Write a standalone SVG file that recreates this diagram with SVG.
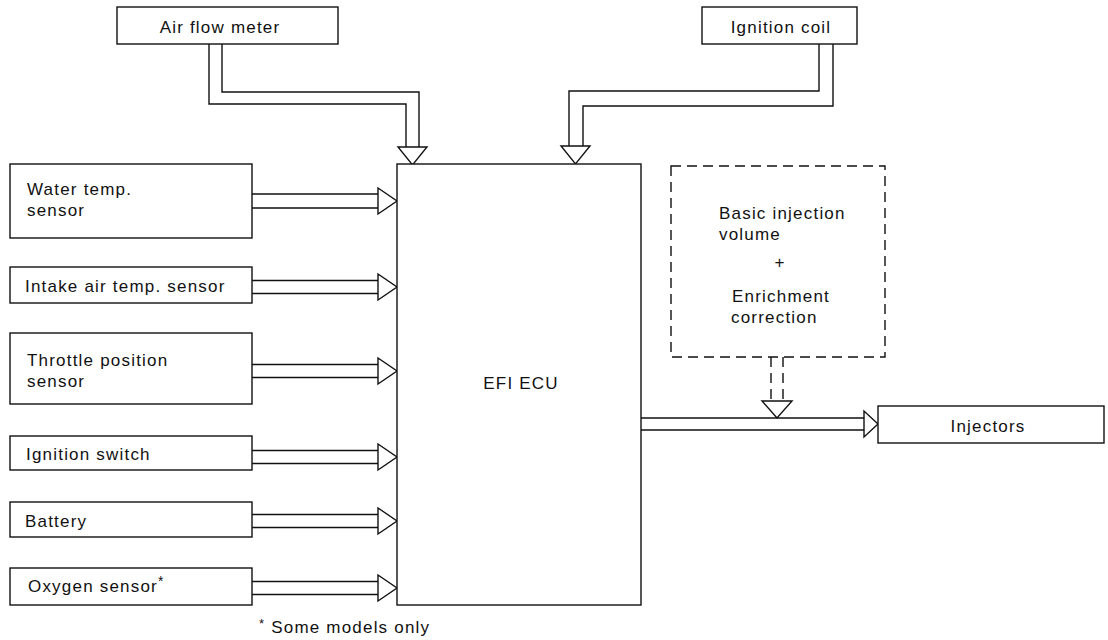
<svg xmlns="http://www.w3.org/2000/svg" width="1108" height="640" viewBox="0 0 1108 640">
  <style>
    .box { fill: #fff; stroke: #111; stroke-width: 1.4; }
    .dash { fill: none; stroke: #111; stroke-width: 1.4; stroke-dasharray: 10 6; }
    .wire { fill: none; stroke: #111; stroke-width: 1.4; stroke-linejoin: miter; }
    .head { fill: #fff; stroke: #111; stroke-width: 1.4; stroke-linejoin: miter; }
    text { font-family: "Liberation Sans", Arial, sans-serif; font-size: 17px; fill: #111; letter-spacing: 1.2px; }
    .mid { text-anchor: middle; }
  </style>
  <rect width="1108" height="640" fill="#fff"/>

  <!-- hollow double-line arrows -->
  <g id="connectors">
    <!-- air flow meter down into ECU -->
    <path class="wire" d="M209,44 V104 H406 V147"/>
    <path class="wire" d="M222,44 V92 H419 V147"/>
    <path class="head" d="M398,147 H427 L412.5,165 Z"/>
    <!-- ignition coil down into ECU -->
    <path class="wire" d="M833,44 V106 H583 V146"/>
    <path class="wire" d="M819,44 V91 H569 V146"/>
    <path class="head" d="M561,146 H590 L575.5,164 Z"/>
    <!-- sensor inputs -->
    <path class="wire" d="M252,194 H378 M252,208 H378"/>
    <path class="head" d="M378,188 V214 L397,201 Z"/>
    <path class="wire" d="M252,280.5 H378 M252,293.5 H378"/>
    <path class="head" d="M378,274 V300 L397,287 Z"/>
    <path class="wire" d="M252,364.5 H378 M252,377.5 H378"/>
    <path class="head" d="M378,358 V384 L397,371 Z"/>
    <path class="wire" d="M252,450.5 H378 M252,463.5 H378"/>
    <path class="head" d="M378,444 V470 L397,457 Z"/>
    <path class="wire" d="M252,514.5 H378 M252,527.5 H378"/>
    <path class="head" d="M378,508 V534 L397,521 Z"/>
    <path class="wire" d="M252,581.5 H378 M252,594.5 H378"/>
    <path class="head" d="M378,575 V601 L397,588 Z"/>
    <!-- ECU output to injectors -->
    <path class="wire" d="M641,418 H864 M641,430 H864"/>
    <path class="head" d="M864,411 V437 L878,424 Z"/>
    <!-- correction feed (dashed) -->
    <path class="dash" d="M771,357 V401 M783,357 V401" stroke-dasharray="8 5"/>
    <path class="head" d="M762,401 H792 L777,418 Z"/>
  </g>

  <g id="air-flow-meter">
    <rect class="box" x="117" y="7" width="221" height="37"/>
    <text class="mid" x="220" y="33">Air flow meter</text>
  </g>
  <g id="ignition-coil">
    <rect class="box" x="702" y="7" width="155" height="37"/>
    <text class="mid" x="781" y="33">Ignition coil</text>
  </g>
  <g id="water-temp-sensor">
    <rect class="box" x="10" y="164" width="242" height="74"/>
    <text x="27" y="195">Water temp.</text>
    <text x="27" y="216">sensor</text>
  </g>
  <g id="intake-air-temp-sensor">
    <rect class="box" x="10" y="267" width="242" height="36"/>
    <text x="25" y="292">Intake air temp. sensor</text>
  </g>
  <g id="throttle-position-sensor">
    <rect class="box" x="10" y="333" width="242" height="71"/>
    <text x="27" y="366">Throttle position</text>
    <text x="27" y="387">sensor</text>
  </g>
  <g id="ignition-switch">
    <rect class="box" x="10" y="436" width="242" height="34"/>
    <text x="26" y="460">Ignition switch</text>
  </g>
  <g id="battery">
    <rect class="box" x="10" y="502" width="242" height="35"/>
    <text x="25" y="527">Battery</text>
  </g>
  <g id="oxygen-sensor">
    <rect class="box" x="10" y="568" width="242" height="37"/>
    <text x="28" y="592">Oxygen sensor<tspan font-size="14" dy="-6">*</tspan></text>
  </g>
  <g id="efi-ecu">
    <rect class="box" x="397" y="164" width="244" height="441"/>
    <text class="mid" x="521" y="389" font-size="16" letter-spacing="0.6">EFI ECU</text>
  </g>
  <g id="injection-calc">
    <rect class="dash" x="671" y="166" width="214" height="191"/>
    <text x="719" y="219">Basic injection</text>
    <text x="719" y="240">volume</text>
    <text class="mid" x="780" y="268">+</text>
    <text x="732" y="302">Enrichment</text>
    <text x="731" y="323">correction</text>
  </g>
  <g id="injectors">
    <rect class="box" x="878" y="406" width="226" height="37"/>
    <text class="mid" x="988" y="432">Injectors</text>
  </g>

  <text x="259" y="633" font-size="15" letter-spacing="0.6"><tspan font-size="13" dy="-5">*</tspan><tspan dy="5"> Some models only</tspan></text>
</svg>
